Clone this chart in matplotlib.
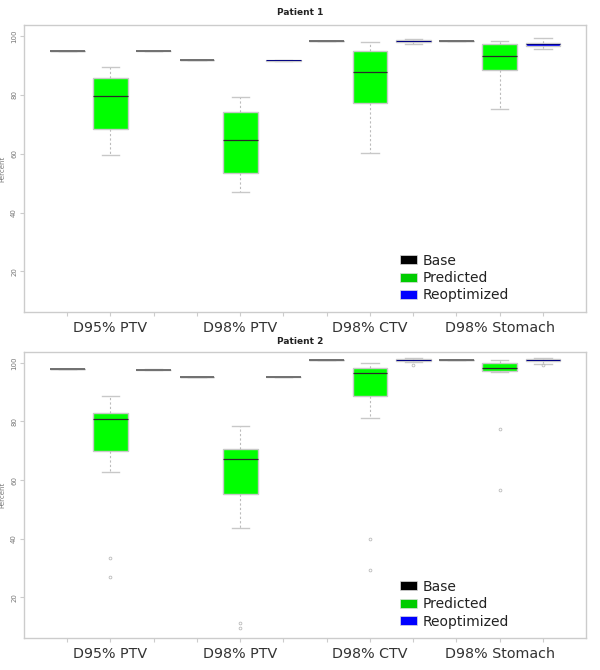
import numpy as np
import matplotlib
matplotlib.use('Agg')
import matplotlib.pyplot as plt
from matplotlib.patches import Patch

# category labels (one per metric, each metric has 3 boxes)
metrics = ['D95% PTV', 'D98% PTV', 'D98% CTV', 'D98% Stomach']
series = ['Base', 'Predicted', 'Reoptimized']

# box statistics: [whislo, q1, med, q3, whishi] per metric
p1_base = [95.0, 91.7, 98.4, 98.4]
p1_pred = [[59.4, 68.2, 79.7, 85.6, 89.4],
           [47.0, 53.3, 64.7, 74.0, 79.2],
           [60.3, 77.1, 87.6, 95.0, 97.8],
           [75.0, 88.3, 93.3, 97.3, 98.1]]
p1_reopt = [[95.0, 95.0, 95.0, 95.0, 95.0],
            [91.3, 91.5, 91.7, 91.8, 91.9],
            [97.2, 97.8, 98.2, 98.5, 99.1],
            [95.7, 96.6, 97.2, 97.7, 99.4]]
p1_pred_out = [[], [], [], []]
p1_reopt_out = [[], [], [], []]

p2_base = [97.9, 95.1, 101.0, 101.0]
p2_pred = [[62.8, 70.1, 81.0, 82.9, 88.7],
           [43.7, 55.3, 67.3, 70.6, 78.5],
           [81.2, 88.6, 96.6, 98.3, 100.0],
           [97.0, 97.3, 98.2, 99.9, 100.9]]
p2_reopt = [[97.6, 97.6, 97.6, 97.6, 97.9],
            [95.1, 95.1, 95.1, 95.1, 95.1],
            [100.3, 100.6, 100.9, 101.4, 101.7],
            [99.5, 100.5, 100.9, 101.2, 101.7]]
p2_pred_out = [[33.3, 27.0], [11.3, 9.6], [39.9, 29.5], [77.3, 56.7]]
p2_reopt_out = [[], [], [99.1], [99.1]]

colors = {'Base': '#000000', 'Predicted': '#00FF00', 'Reoptimized': '#0000FF'}
legend_colors = ['#000000', '#00CC00', '#0000FF']


def make_stats(vals, fliers):
    lo, q1, med, q3, hi = vals
    return dict(whislo=lo, q1=q1, med=med, q3=q3, whishi=hi, fliers=fliers)


def draw_panel(ax, base, pred, reopt, pred_out, reopt_out, title_y, title):
    stats = []
    cols = []
    for i in range(len(metrics)):
        b = base[i]
        stats.append(make_stats([b, b, b, b, b], []))
        cols.append('Base')
        stats.append(make_stats(pred[i], pred_out[i]))
        cols.append('Predicted')
        stats.append(make_stats(reopt[i], reopt_out[i]))
        cols.append('Reoptimized')
    pos = np.arange(1, len(stats) + 1)
    bp = ax.bxp(stats, positions=pos, widths=0.8, patch_artist=True,
                showfliers=True,
                whiskerprops=dict(color='#BBBBBB', linestyle=(0, (2, 2)), linewidth=0.8),
                capprops=dict(color='#C8C8C8', linewidth=1.0),
                flierprops=dict(marker='o', markersize=2.0, markerfacecolor='none',
                                markeredgecolor='#BBBBBB', markeredgewidth=0.6),
                medianprops=dict(color='#2a2a2a', linewidth=0.9))
    for patch, c in zip(bp['boxes'], cols):
        if c == 'Base':
            patch.set_facecolor('#000000')
            patch.set_edgecolor('#808080')
        else:
            patch.set_facecolor(colors[c])
            patch.set_edgecolor('#C8C8C8')
        patch.set_linewidth(1.0)
    for med, c, st in zip(bp['medians'], cols, stats):
        flat = st['q1'] == st['q3']
        if c == 'Base' or flat:
            # zero-height boxes show up as a plain grey line
            med.set_color('#707070')
            med.set_linewidth(1.4)
        elif c == 'Reoptimized':
            med.set_color('#000080')
            med.set_linewidth(0.7)

    ax.set_xlim(0, 13)
    ax.set_ylim(6.2, 103.7)
    ax.set_xticks(pos)
    ax.set_xticklabels(['', metrics[0], '', '', metrics[1], '', '', metrics[2], '',
                        '', metrics[3], ''], fontsize=10.3, color='#333333')
    ax.set_yticks([20, 40, 60, 80, 100])
    ax.set_yticklabels(['20', '40', '60', '80', '100'], rotation=90, va='center',
                       fontsize=5, color='#777777')
    ax.tick_params(axis='x', length=3, color='#CCCCCC', pad=3.5)
    ax.tick_params(axis='y', length=3, color='#CCCCCC', pad=2)
    for sp in ax.spines.values():
        sp.set_color('#CCCCCC')
        sp.set_linewidth(1.0)
    ax.set_ylabel('Percent', fontsize=5, color='#777777')
    ax.yaxis.set_label_coords(-0.034, 0.5)

    handles = [Patch(facecolor=legend_colors[k], edgecolor='#DDDDDD', linewidth=0.5)
               for k in range(3)]
    ax.legend(handles, series, loc='upper left', bbox_to_anchor=(0.657, 0.228),
              frameon=False, fontsize=10, borderpad=0, handlelength=1.2,
              handleheight=0.6, labelspacing=0.25, handletextpad=0.4,
              labelcolor='#222222')

    fig.text(0.5, title_y, title, ha='center', va='center', fontsize=6.5,
             fontweight='bold', color='#222222')


fig = plt.figure(figsize=(6, 6.7), dpi=100)
ax1 = fig.add_axes([0.04, 0.5343, 0.937, 0.4284])
ax2 = fig.add_axes([0.04, 0.0478, 0.937, 0.4269])

draw_panel(ax1, p1_base, p1_pred, p1_reopt, p1_pred_out, p1_reopt_out, 0.9806, 'Patient 1')
draw_panel(ax2, p2_base, p2_pred, p2_reopt, p2_pred_out, p2_reopt_out, 0.491, 'Patient 2')

fig.savefig('out.png', dpi=100)
